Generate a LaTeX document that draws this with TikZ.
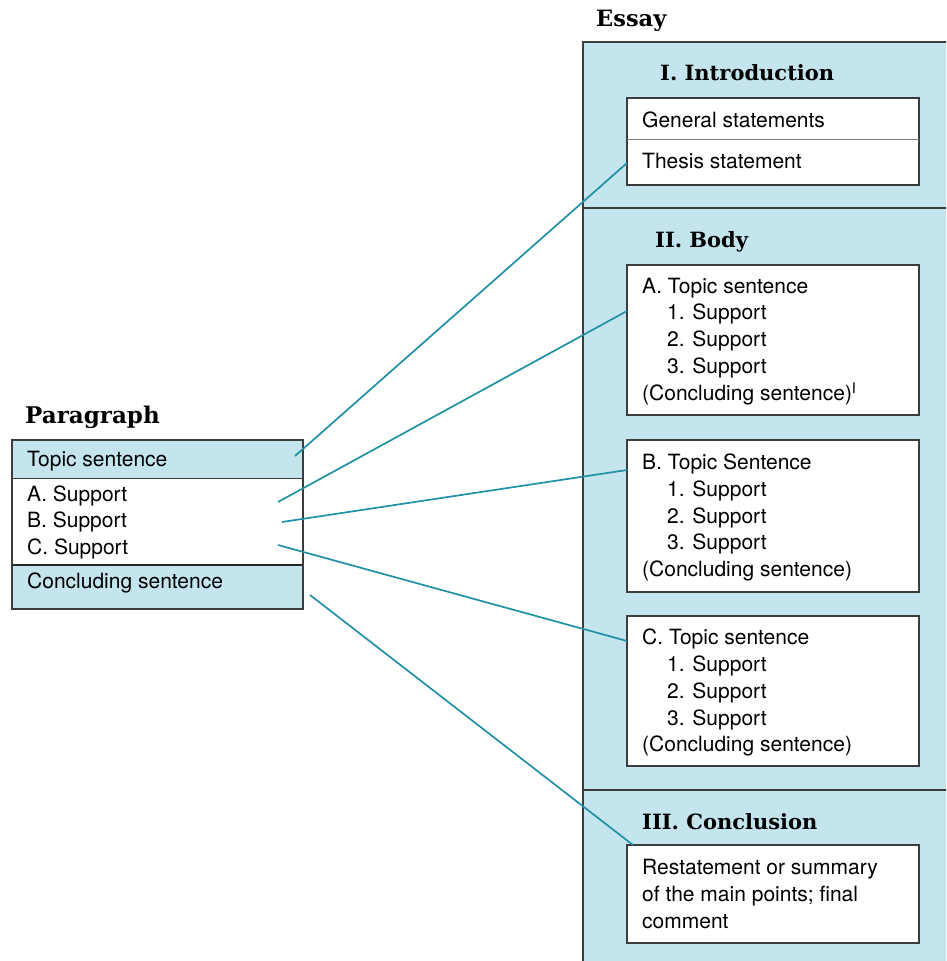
\documentclass[tikz,border=0pt]{standalone}
\usepackage{fontspec}
\setmainfont{TeX Gyre Heros}
\newfontfamily\headfont{DejaVu Serif}
\definecolor{paleblue}{RGB}{196,228,238}
\definecolor{linkteal}{RGB}{32,145,165}
\definecolor{frame}{RGB}{60,60,60}
\tikzset{
  txt/.style={anchor=west,inner sep=0pt,font=\fontsize{21}{24}\selectfont},
  head/.style={anchor=west,inner sep=0pt,font=\headfont\bfseries\fontsize{21}{24}\selectfont},
  wbox/.style={draw=frame,line width=1.5pt,fill=white},
  link/.style={draw=linkteal,line width=1.7pt},
  sep/.style={draw=frame,line width=1.5pt}
}
\begin{document}
\begin{tikzpicture}[x=1pt,y=-1pt]
\useasboundingbox (0,0) rectangle (946,961);
\begin{scope}
\clip (0,0) rectangle (946,961);
% Essay frame
\fill[paleblue] (583,42) rectangle (960,975);
\draw[sep] (583,975) -- (583,42) -- (960,42);
\draw[sep] (583,208) -- (960,208);
\draw[sep] (583,790) -- (960,790);
\end{scope}
\node[head,font=\headfont\bfseries\fontsize{22.5}{24}\selectfont] (essay) at (596,21) {Essay};
\node[head] (intro) at (660,73) {I. Introduction};
\node[head] (body) at (655,242) {II. Body};
\node[head] (concl) at (642,822) {III. Conclusion};
% Intro box
\draw[wbox] (627,98) rectangle (919,185);
\coordinate (introL) at (627,163);
\draw[draw=gray,line width=0.8pt] (627,139) -- (919,139);
\node[txt] (gs) at (642,120) {General statements};
\node[txt] (ts) at (642,161) {Thesis statement};
% Body A
\draw[wbox] (627,265) rectangle (919,415);
\coordinate (aL) at (627,311);
\node[txt] (a0) at (642,288) {A. Topic sentence};
\node[txt] (a1) at (667,314) {1. Support};
\node[txt] (a2) at (667,341) {2. Support};
\node[txt] (a3) at (667,368) {3. Support};
\node[txt] (a4) at (642,394) {(Concluding sentence)\textsuperscript{I}};
% Body B
\draw[wbox] (627,440) rectangle (919,592);
\coordinate (bL) at (627,470);
\node[txt] (b0) at (642,464) {B. Topic Sentence};
\node[txt] (b1) at (667,491) {1. Support};
\node[txt] (b2) at (667,518) {2. Support};
\node[txt] (b3) at (667,544) {3. Support};
\node[txt] (b4) at (642,571) {(Concluding sentence)};
% Body C
\draw[wbox] (627,616) rectangle (919,766);
\coordinate (cL) at (627,641);
\node[txt] (c0) at (642,639) {C. Topic sentence};
\node[txt] (c1) at (667,666) {1. Support};
\node[txt] (c2) at (667,693) {2. Support};
\node[txt] (c3) at (667,720) {3. Support};
\node[txt] (c4) at (642,746) {(Concluding sentence)};
% Conclusion box
\draw[wbox] (627,845) rectangle (919,943);
\coordinate (dL) at (633,845);
\node[txt] (d0) at (642,869) {Restatement or summary};
\node[txt] (d1) at (642,896) {of the main points; final};
\node[txt] (d2) at (642,922) {comment};
% Paragraph
\node[head,font=\headfont\bfseries\fontsize{23}{26}\selectfont] (para) at (25,417) {Paragraph};
\fill[paleblue] (12,440) rectangle (303,478);
\fill[paleblue] (12,565) rectangle (303,609);
\draw[draw=frame,line width=1pt] (12,478) -- (303,478);
\draw[draw=black!85,line width=1.8pt] (12,565) -- (303,565);
\draw[wbox,fill=none] (12,440) rectangle (303,609);
\node[txt] (pt) at (27,461) {Topic sentence};
\node[txt] (pa) at (27,496) {A. Support};
\node[txt] (pb) at (27,522) {B. Support};
\node[txt] (pc) at (27,549) {C. Support};
\node[txt] (pd) at (27,583) {Concluding sentence};
\coordinate (s1) at (295,456);
\coordinate (s2) at (278,502);
\coordinate (s3) at (282,522);
\coordinate (s4) at (278,545);
\coordinate (s5) at (310,595);
% connectors
\draw[link] (s1) -- (introL);
\draw[link] (s2) -- (aL);
\draw[link] (s3) -- (bL);
\draw[link] (s4) -- (cL);
\draw[link] (s5) -- (dL);
\end{tikzpicture}
\end{document}
